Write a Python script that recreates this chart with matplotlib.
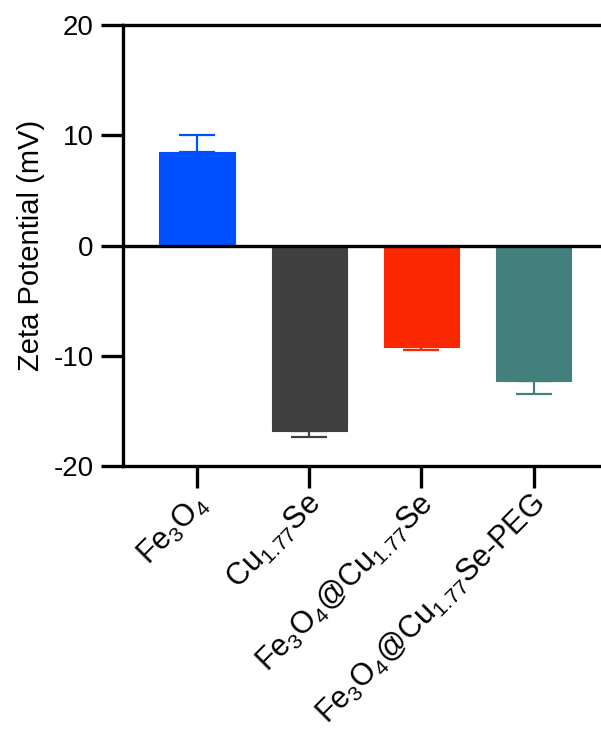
import matplotlib as mpl
mpl.use('Agg')
import matplotlib.pyplot as plt
import numpy as np
from matplotlib.transforms import ScaledTranslation

plt.rcParams['font.family'] = ['Liberation Sans', 'DejaVu Sans']
plt.rcParams['mathtext.fontset'] = 'custom'
plt.rcParams['mathtext.rm'] = 'Liberation Sans'
plt.rcParams['axes.unicode_minus'] = False

labels = [r'Fe$_3$O$_4$', r'Cu$_{1.77}$Se', r'Fe$_3$O$_4$@Cu$_{1.77}$Se',
          r'Fe$_3$O$_4$@Cu$_{1.77}$Se-PEG']
values = [8.5, -16.8, -9.2, -12.3]
errors = [1.5, 0.6, 0.25, 1.2]
colors = ['#0050FF', '#404040', '#FA2800', '#43807D']

fig = plt.figure(figsize=(6.01, 7.29), dpi=100)
ax = fig.add_axes([123 / 601, 1 - 466 / 729, 1 - 123 / 601, 441 / 729])

x = np.arange(len(values))
ax.bar(x, values, width=0.67, color=colors, edgecolor=colors, linewidth=0.8, zorder=2)
for xi, v, e, c in zip(x, values, errors, colors):
    lo = [[0], [e]] if v > 0 else [[e], [0]]
    ax.errorbar(xi, v, yerr=lo, color=c, capsize=13, elinewidth=1.6, capthick=1.6,
                fmt='none', zorder=1)

ax.axhline(0, color='black', lw=2.4, zorder=3)
ax.set_ylim(-20, 20)
ax.set_xlim(-0.66, 3.6)
ax.set_yticks([-20, -10, 0, 10, 20])
ax.set_ylabel('Zeta Potential (mV)', fontsize=21, labelpad=6)

for s in ['left', 'bottom', 'top']:
    ax.spines[s].set_linewidth(2.4)
ax.spines['right'].set_visible(False)
ax.tick_params(axis='both', width=2.4, length=16, labelsize=20, pad=5)

ax.set_xticks(x)
ax.set_xticklabels(labels, rotation=45, ha='right', va='center',
                   rotation_mode='anchor', fontsize=22)
offset = ScaledTranslation(5 / 72, -3 / 72, fig.dpi_scale_trans)
for lab in ax.get_xticklabels():
    lab.set_transform(lab.get_transform() + offset)

plt.savefig('out.png', dpi=100)
